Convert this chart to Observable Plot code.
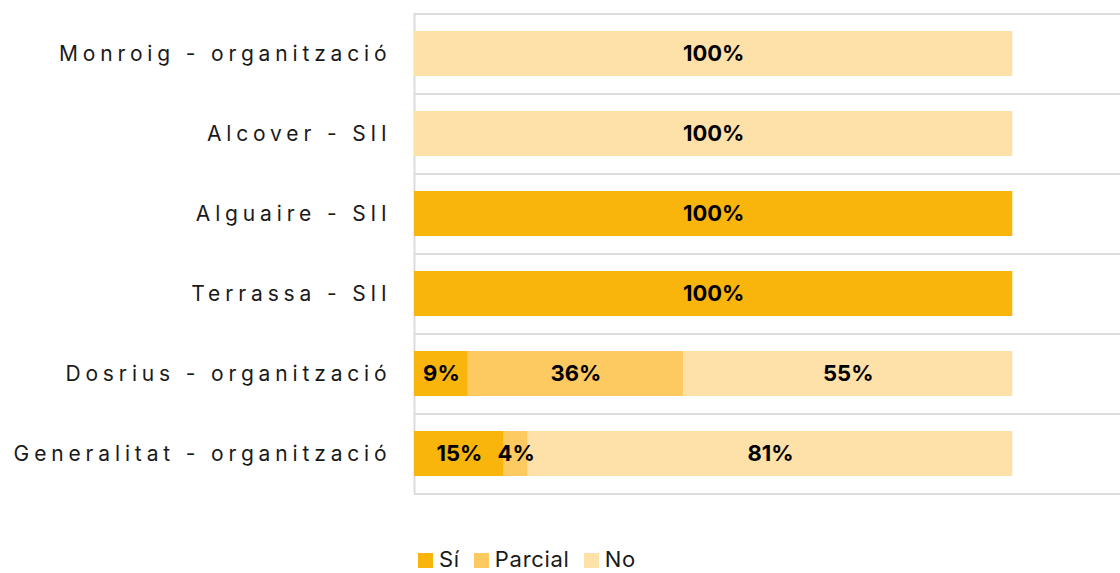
<!DOCTYPE html>
<html>
<head>
<meta charset="utf-8">
<script src="https://cdn.jsdelivr.net/npm/d3@7"></script>
<script src="https://cdn.jsdelivr.net/npm/@observablehq/plot@0.6"></script>
<style>
  html, body { margin: 0; padding: 0; background: #fff; }
  #wrap { position: relative; width: 1120px; height: 573px; overflow: hidden; }
  #legend { position: absolute; left: 418px; top: 547px; display: flex; align-items: center;
            font-family: Inter, "Noto Sans", sans-serif; font-size: 22px; line-height: 24px; letter-spacing: 0.7px; color: #1a1a1a; }
  #legend .item { display: flex; align-items: center; margin-right: 14px; }
  #legend .sw { width: 15px; height: 15px; margin-right: 6px; margin-top: 3px; }
</style>
</head>
<body>
<div id="wrap"><div id="chart"></div><div id="legend"></div></div>
<script>
const categories = [
  "Monroig - organització",
  "Alcover - SII",
  "Alguaire - SII",
  "Terrassa - SII",
  "Dosrius - organització",
  "Generalitat - organització"
];
const types = ["Sí", "Parcial", "No"];
const colors = ["#f9b50c", "#fdc961", "#fee1a8"];
const si      = [0, 0, 100, 100, 9, 15];
const parcial = [0, 0, 0, 0, 36, 4];
const no      = [100, 100, 0, 0, 55, 81];

const series = {"Sí": si, "Parcial": parcial, "No": no};
const data = [];
categories.forEach((c, i) => {
  types.forEach(t => {
    const v = series[t][i];
    if (v > 0) data.push({cat: c, type: t, value: v});
  });
});

const stackOpts = {x: "value", y: "cat", z: "type", order: types};

const chart = Plot.plot({
  width: 1120,
  height: 545,
  marginLeft: 414,
  marginRight: 0,
  marginTop: 13,
  marginBottom: 52,
  style: {fontFamily: "Inter, 'Noto Sans', sans-serif", background: "transparent"},
  x: {domain: [0, 118], axis: null},
  y: {domain: categories, paddingInner: 0.4375, paddingOuter: 0.21875, label: null,
      tickSize: 0, tickPadding: 22},
  color: {domain: types, range: colors},
  marks: [
    Plot.ruleY(categories, {y: d => d, x1: 0, x2: 118, dy: -40, stroke: "#dcdcdc", strokeWidth: 2}),
    Plot.ruleY([categories[categories.length - 1]], {y: d => d, x1: 0, x2: 118, dy: 40, stroke: "#dcdcdc", strokeWidth: 2}),
    Plot.ruleX([0], {stroke: "#dcdcdc", strokeWidth: 2}),
    Plot.barX(data, Plot.stackX({...stackOpts, fill: "type", inset: 0})),
    Plot.text(data, Plot.stackX({...stackOpts, text: d => d.value + "%", fill: "#000",
      fontSize: 22, fontWeight: 700})),
    Plot.axisY({tickSize: 0, tickPadding: 22, fontSize: 21, label: null, fill: "#1a1a1a"})
  ]
});
chart.querySelectorAll('[aria-label="y-axis tick label"] text').forEach(t => {
  t.style.letterSpacing = "4.85px";
  t.setAttribute("dx", "-1");
});
document.getElementById("chart").appendChild(chart);

const legend = document.getElementById("legend");
types.forEach((t, i) => {
  const it = document.createElement("div");
  it.className = "item";
  it.innerHTML = `<span class="sw" style="background:${colors[i]}"></span><span>${t}</span>`;
  legend.appendChild(it);
});
</script>
</body>
</html>
